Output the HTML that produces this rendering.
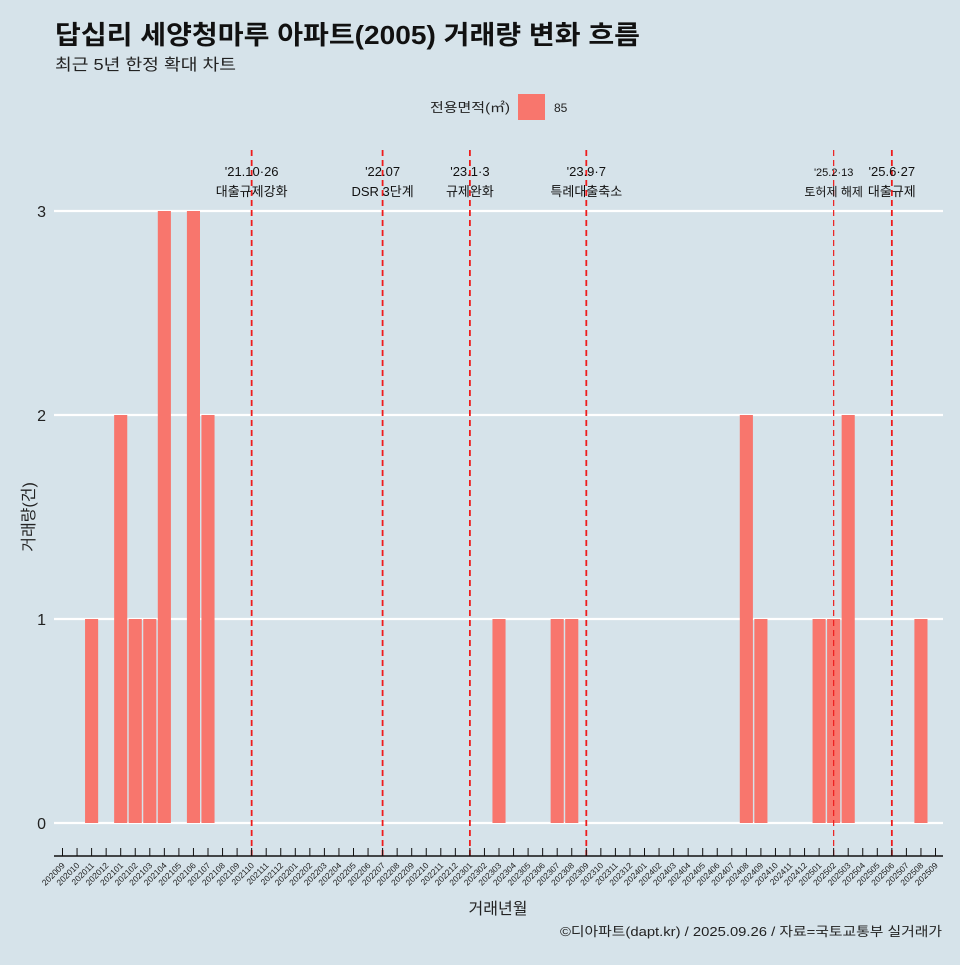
<!DOCTYPE html>
<html><head><meta charset="utf-8">
<style>
html,body{margin:0;padding:0;background:#d6e3ea;}
body{width:960px;height:960px;overflow:hidden;font-family:"Liberation Sans","Noto Sans CJK KR",sans-serif;}
</style></head>
<body>
<svg id="chart" width="960" height="960" xmlns="http://www.w3.org/2000/svg" style="font-family:'Liberation Sans','Noto Sans CJK KR',sans-serif">
<rect width="960" height="960" fill="#d6e3ea"/>
<text x="55" y="44" font-size="26" font-weight="bold" fill="#111" textLength="585" lengthAdjust="spacingAndGlyphs">답십리 세양청마루 아파트(2005) 거래량 변화 흐름</text>
<text x="55" y="70" font-size="16" fill="#222" textLength="181" lengthAdjust="spacingAndGlyphs">최근 5년 한정 확대 차트</text>
<g>
<text x="510" y="112" font-size="13" text-anchor="end" fill="#222" textLength="80" lengthAdjust="spacingAndGlyphs">전용면적(㎡)</text>
<rect x="518" y="94" width="27" height="26" fill="#f8766d"/>
<text x="554" y="112" font-size="12" fill="#222">85</text>
</g>
<g id="grid"></g><g id="bars"></g><g id="events"></g><g id="axes"></g>
<text transform="translate(34,517) rotate(-90)" font-size="16" text-anchor="middle" fill="#222">거래량(건)</text>
<text x="498" y="914" font-size="16" text-anchor="middle" fill="#222">거래년월</text>
<text x="560" y="936" font-size="13" fill="#222" textLength="382" lengthAdjust="spacingAndGlyphs">©디아파트(dapt.kr) / 2025.09.26 / 자료=국토교통부 실거래가</text>
</svg>
<script>
const months = [];
for (let y = 2020, m = 9; !(y === 2025 && m === 10); ) { months.push(String(y) + String(m).padStart(2, '0')); m++; if (m > 12) { m = 1; y++; } }
const barMonths = ['202011','202101','202102','202103','202104','202106','202107','202303','202307','202308','202408','202409','202501','202502','202503','202508'];
const barValues = [1,2,1,1,3,3,2,1,1,1,2,1,1,1,2,1];
const yTicks = [0,1,2,3];
const eventMonths = ['202110','202207','202301','202309','202502','202506'];
const eventDates = ["'21.10·26","'22.07","'23.1·3","'23.9·7","'25.2·13","'25.6·27"];
const eventLabels = ['대출규제강화','DSR 3단계','규제완화','특례대출축소','토허제 해제','대출규제'];

const NS = 'http://www.w3.org/2000/svg';
const x0 = 62.5, step = 14.55, y0 = 823, unit = 204;
const xs = m => x0 + months.indexOf(m) * step;
const xi = i => x0 + i * step;
const ys = v => y0 - v * unit;
function el(tag, attrs, parent, text) {
  const e = document.createElementNS(NS, tag);
  for (const k in attrs) e.setAttribute(k, attrs[k]);
  if (text !== undefined) e.textContent = text;
  parent.appendChild(e); return e;
}
const grid = document.getElementById('grid'), bars = document.getElementById('bars'),
      events = document.getElementById('events'), axes = document.getElementById('axes');
yTicks.forEach(v => {
  const l = el('line', {x1: 54, x2: 943, y1: ys(v), y2: ys(v), stroke: '#fff', 'stroke-width': 2.2}, grid);
  
  
  const t = el('text', {x: 46, y: ys(v) + 6, 'font-size': 16, 'text-anchor': 'end', fill: '#222'}, grid, String(v));
  
  
});
barMonths.forEach((m, i) => {
  const w = 13.1;
  const r = el('rect', {x: xs(m) - w / 2, y: ys(barValues[i]), width: w, height: barValues[i] * unit, fill: '#f8766d'}, bars);
  
  
});
eventMonths.forEach((m, i) => {
  const x = xs(m);
  const thin = m === '202502';
  const l = el('line', {x1: x, x2: x, y1: 150, y2: 856, stroke: '#ee1c1c', 'stroke-width': thin ? 1.2 : 1.8, 'stroke-dasharray': '6,4'}, events);
  
  
  const t1 = el('text', {x: x, y: 176, 'font-size': thin ? 11 : 13, 'text-anchor': 'middle', fill: '#111'}, events, eventDates[i]);
  
  
  const t2 = el('text', {x: x, y: 196, 'font-size': thin ? 12 : 13, 'text-anchor': 'middle', fill: '#111'}, events, eventLabels[i]);
  
  
});
const ax = el('line', {x1: 54, x2: 943, y1: 856, y2: 856, stroke: '#111', 'stroke-width': 1.5}, axes);


months.forEach((m, i) => {
  const x = xi(i);
  el('line', {x1: x, x2: x, y1: 848, y2: 856, stroke: '#111', 'stroke-width': 1}, axes);
  const t = el('text', {x: x + 3, y: 866, 'font-size': 8.5, 'text-anchor': 'end', fill: '#222', transform: `rotate(-45 ${x + 3} 866)`}, axes, m);
  
  
});
</script>
</body></html>
